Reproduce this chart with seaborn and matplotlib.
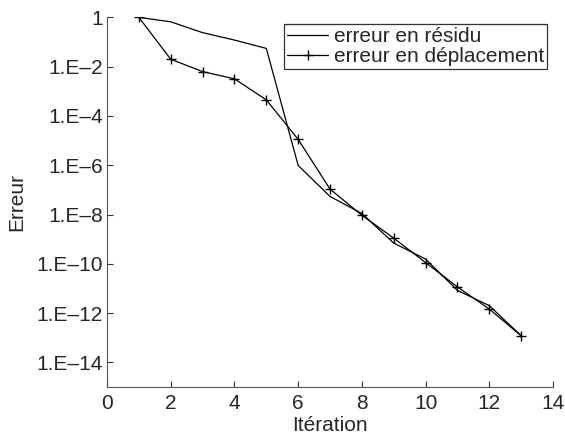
import numpy as np
import pandas as pd
import matplotlib
matplotlib.use("Agg")
import matplotlib.pyplot as plt
from matplotlib.ticker import FixedLocator, FuncFormatter, NullLocator
import seaborn as sns

# Convergence history of the two error measures
iterations = [1, 2, 3, 4, 5, 6, 7, 8, 9, 10, 11, 12, 13]
err_residu = [1.0, 6.6e-1, 2.4e-1, 1.2e-1, 5.5e-2, 9.8e-7, 5.4e-8, 1.1e-8,
              6.9e-10, 1.55e-10, 8.3e-12, 2.0e-12, 1.2e-13]
err_deplacement = [1.0, 2.0e-2, 6.3e-3, 3.2e-3, 4.5e-4, 1.12e-5, 1.07e-7,
                   9.3e-9, 1.1e-9, 1.12e-10, 1.15e-11, 1.45e-12, 1.2e-13]
label_residu = "erreur en résidu"
label_deplacement = "erreur en déplacement"

sns.set_style("ticks")
plt.rcParams["font.family"] = ["Liberation Sans", "DejaVu Sans"]
plt.rcParams["xtick.direction"] = "in"
plt.rcParams["ytick.direction"] = "in"

df_res = pd.DataFrame({"Itération": iterations, "Erreur": err_residu})
df_dep = pd.DataFrame({"Itération": iterations, "Erreur": err_deplacement})

fig = plt.figure(figsize=(5.65, 4.34), dpi=100)
ax = fig.add_axes([0.1894, 0.1083, 0.7894, 0.8517])

sns.lineplot(data=df_res, x="Itération", y="Erreur", color="black",
             linewidth=0.9, label=label_residu, ax=ax)
sns.lineplot(data=df_dep, x="Itération", y="Erreur", color="black",
             linewidth=0.9, marker="+", markersize=6.5, markeredgewidth=1.0,
             markeredgecolor="black", label=label_deplacement, ax=ax)

ax.set_yscale("log")
ax.set_xlim(0, 14)
ax.set_ylim(1e-15, 1)
ax.set_xticks(range(0, 15, 2))
ax.yaxis.set_major_locator(FixedLocator([10.0 ** e for e in range(-14, 1, 2)]))
ax.yaxis.set_minor_locator(NullLocator())


def fmt(v, pos):
    e = int(round(np.log10(v)))
    return "1" if e == 0 else "1.E\u2013%d" % (-e)


ax.yaxis.set_major_formatter(FuncFormatter(fmt))
ax.tick_params(axis="both", labelsize=15, length=4, width=0.8, color="#333333", pad=3)
ax.tick_params(axis="x", pad=5)
for side in ("top", "right"):
    ax.spines[side].set_visible(False)
for side in ("left", "bottom"):
    ax.spines[side].set_linewidth(0.8)
    ax.spines[side].set_color("#555555")

ax.set_xlabel("Itération", fontsize=15, labelpad=2)
ax.set_ylabel("Erreur", fontsize=15, labelpad=7)

handles, labels = ax.get_legend_handles_labels()
leg = ax.legend(handles, labels, loc="upper right", bbox_to_anchor=(547 / 565, 1 - 24 / 434),
                bbox_transform=fig.transFigure, fontsize=15, frameon=True, fancybox=False,
                borderpad=0.15, labelspacing=0.05, handlelength=2.0, handletextpad=0.25,
                borderaxespad=0)
leg.get_frame().set_edgecolor("black")
leg.get_frame().set_linewidth(0.9)

fig.savefig("out.png", dpi=100, facecolor="white")
